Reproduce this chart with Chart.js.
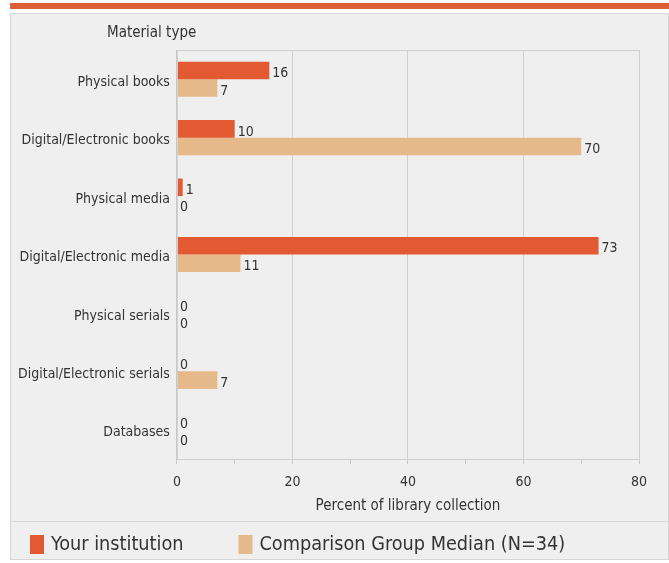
<!DOCTYPE html>
<html><head><meta charset="utf-8">
<script src="https://cdn.jsdelivr.net/npm/chart.js@4"></script>
<style>
html,body{margin:0;padding:0;background:#fff;width:669px;height:563px;overflow:hidden;}
#topbar{position:absolute;left:10px;top:3px;width:659px;height:6px;background:#dc5f38;}
#panel{position:absolute;left:10px;top:13px;width:657px;height:545px;background:#efefef;border:1px solid #d6d6d6;}
#wrap{position:absolute;left:0;top:0;width:657px;height:545px;}
</style></head>
<body>
<div id="topbar"></div>
<div id="panel"><div id="wrap"><canvas id="c"></canvas></div></div>
<script>
const categories = ["Physical books","Digital/Electronic books","Physical media","Digital/Electronic media","Physical serials","Digital/Electronic serials","Databases"];
const yourInstitution = [16,10,1,73,0,0,0];
const comparisonMedian = [7,70,0,11,0,7,0];
const seriesNames = ["Your institution","Comparison Group Median (N=34)"];
const xTicks = [0,20,40,60,80];
const FONT = "'DejaVu Sans Condensed','Liberation Sans',Arial,sans-serif";

const valueLabels = {
  id:'valueLabels',
  afterDatasetsDraw(chart){
    const ctx = chart.ctx;
    ctx.save();
    ctx.font = "14px " + FONT;
    ctx.fillStyle = "#333";
    ctx.textBaseline = "middle";
    ctx.textAlign = "left";
    chart.data.datasets.forEach((ds,i)=>{
      const meta = chart.getDatasetMeta(i);
      meta.data.forEach((bar,j)=>{
        ctx.fillText(String(ds.data[j]), bar.x + 3, bar.y + 3);
      });
    });
    ctx.restore();
  }
};
const decor = {
  id:'decor',
  afterDraw(chart){
    const ctx = chart.ctx, a = chart.chartArea;
    ctx.save();
    ctx.strokeStyle = "#cfcfcf";
    ctx.lineWidth = 1;
    ctx.strokeRect(a.left+0.5, a.top+0.5, a.right-a.left, a.bottom-a.top);
    // separator above legend
    const ly = 507;
    ctx.strokeStyle = "#d6d6d6";
    ctx.beginPath(); ctx.moveTo(0, ly+0.5); ctx.lineTo(chart.width, ly+0.5); ctx.stroke();
    // y axis title
    ctx.font = "15px " + FONT;
    ctx.fillStyle = "#333";
    ctx.textBaseline = "middle";
    ctx.textAlign = "left";
    ctx.fillText("Material type", 96, 19);
    // legend from datasets
    ctx.font = "19.7px " + FONT;
    let x = 19;
    const cy = 530;
    chart.data.datasets.forEach((ds)=>{
      ctx.fillStyle = ds.backgroundColor;
      ctx.fillRect(x, cy-9, 14, 19);
      ctx.fillStyle = "#333";
      ctx.fillText(ds.label, x+21, cy+1);
      x += 21 + ctx.measureText(ds.label).width + 55;
    });
    ctx.restore();
  }
};

new Chart(document.getElementById('c'), {
  type:'bar',
  data:{
    labels: categories,
    datasets:[
      {label: seriesNames[0], data: yourInstitution, backgroundColor:'#e35a32', categoryPercentage:0.6, barPercentage:1.0},
      {label: seriesNames[1], data: comparisonMedian, backgroundColor:'#e6b98a', categoryPercentage:0.6, barPercentage:1.0}
    ]
  },
  options:{
    indexAxis:'y',
    responsive:true,
    maintainAspectRatio:false,
    animation:false,
    layout:{padding:{top:36,right:29,left:0,bottom:44}},
    scales:{
      x:{
        min:0,max:80,
        ticks:{stepSize:10, color:'#333', font:{size:14, family:FONT, lineHeight:1.0}, padding:11,
          callback:(v)=> xTicks.includes(v) ? String(v) : ''},
        grid:{color:(c)=> (c.tick && c.tick.value%20===0) ? '#d0d0d0' : 'rgba(0,0,0,0)', tickColor:'#c8c8c8', tickLength:5, drawTicks:true},
        border:{display:true,color:'#c8c8c8'},
        title:{display:true, text:'Percent of library collection', color:'#333', font:{size:15, family:FONT}, padding:{top:-3,bottom:0}}
      },
      y:{
        ticks:{color:'#333', font:{size:14, family:FONT}, padding:7, labelOffset:3},
        grid:{display:false, drawTicks:false},
        border:{display:true,color:'#c8c8c8'}
      }
    },
    plugins:{
      legend:{display:false},
      tooltip:{enabled:false}
    }
  },
  plugins:[valueLabels, decor]
});
</script>
</body></html>
